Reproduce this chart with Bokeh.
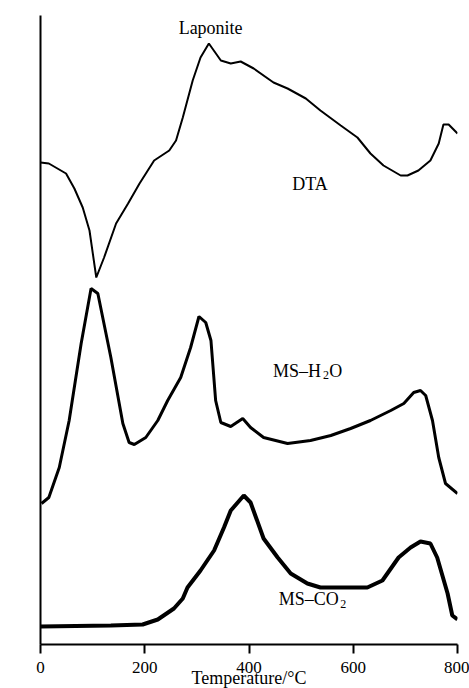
import math
from bokeh.plotting import figure
from bokeh.models import Range1d, FixedTicker, Label
from bokeh.embed import file_html
from bokeh.resources import INLINE

# Temperature (°C) and signal heights (arbitrary units)
dta_t = [0, 16, 49, 65, 81, 94, 107, 122, 145, 168, 190, 218, 247, 260, 273, 292, 307, 323,
         346, 365, 384, 409, 447, 474, 509, 537, 576, 608, 633, 658, 691, 704, 725, 748,
         764, 773, 783, 800]
dta_v = [482, 481, 471, 456, 437, 414, 367, 387, 421, 441, 461, 484, 494, 504, 527, 564, 587, 601,
         584, 581, 583, 576, 562, 556, 546, 534, 519, 507, 491, 479, 469, 469, 474, 484,
         501, 520, 520, 511]

h2o_t = [2, 16, 36, 55, 78, 97, 110, 135, 158, 170, 180, 202, 225, 244, 269, 288, 304, 317,
         327, 336, 346, 365, 388, 403, 428, 474, 518, 557, 595, 633, 672, 697, 716, 729,
         739, 752, 764, 777, 800]
h2o_v = [141, 147, 177, 224, 301, 356, 351, 287, 221, 202, 200, 207, 224, 244, 267, 297, 328, 322,
         304, 244, 222, 218, 226, 217, 207, 201, 204, 209, 216, 224, 234, 241, 252, 254,
         249, 224, 187, 161, 151]

co2_t = [0, 135, 196, 225, 256, 273, 282, 307, 333, 352, 365, 390, 403, 428, 455, 480, 512, 537,
         627, 656, 687, 710, 729, 748, 761, 781, 790, 800]
co2_v = [18, 19, 20, 25, 36, 46, 57, 74, 94, 117, 134, 149, 142, 106, 87, 71, 61, 57,
         57, 64, 87, 97, 103, 101, 87, 51, 29, 25]

x_ticks = [0, 200, 400, 600, 800]

FONT = "Liberation Serif"

p = figure(frame_width=417, frame_height=629, output_backend="svg", toolbar_location=None,
           x_range=Range1d(0, 800), y_range=Range1d(0, 629),
           min_border_left=40, min_border_right=12, min_border_top=15, min_border_bottom=0)
p.outline_line_color = None
p.xgrid.visible = False
p.ygrid.visible = False
p.background_fill_color = "white"
p.border_fill_color = "white"

p.line(dta_t, dta_v, line_color="black", line_width=2)
p.line(h2o_t, h2o_v, line_color="black", line_width=3)
p.line(co2_t, co2_v, line_color="black", line_width=4)

xa = p.xaxis[0]
xa.ticker = FixedTicker(ticks=x_ticks)
xa.minor_tick_line_color = None
xa.major_tick_out = 9
xa.major_tick_in = 0
xa.major_tick_line_width = 2
xa.axis_line_width = 2
xa.major_label_standoff = 8
xa.major_label_text_font = FONT
xa.major_label_text_font_size = "17px"
xa.major_label_text_color = "black"
xa.axis_label = "Temperature/°C"
xa.axis_label_text_font = FONT
xa.axis_label_text_font_size = "18px"
xa.axis_label_text_font_style = "normal"
xa.axis_label_text_color = "black"
xa.axis_label_standoff = -8

ya = p.yaxis[0]
ya.ticker = FixedTicker(ticks=[])
ya.minor_tick_line_color = None
ya.major_tick_line_color = None
ya.axis_line_width = 2

def lab(x, y, t, size="18px", angle=0, align="left", baseline="alphabetic"):
    p.add_layout(Label(x=x, y=y, text=t, text_font=FONT, text_font_size=size,
                       text_color="black", angle=angle, text_align=align,
                       text_baseline=baseline))

lab(-43, 597, "Exo \u2192", angle=math.pi / 2, align="center", baseline="middle")
lab(-42, 325, "Intensity", angle=math.pi / 2, align="center", baseline="middle")
lab(265, 617, "Laponite")
lab(483, 461, "DTA")
lab(446, 274, "MS\u2013H")
lab(542, 269.5, "2", size="12px")
lab(554, 274, "O")
lab(457, 46, "MS\u2013CO")
lab(575, 41, "2", size="12px")

open("out.html", "w").write(file_html(p, INLINE))
